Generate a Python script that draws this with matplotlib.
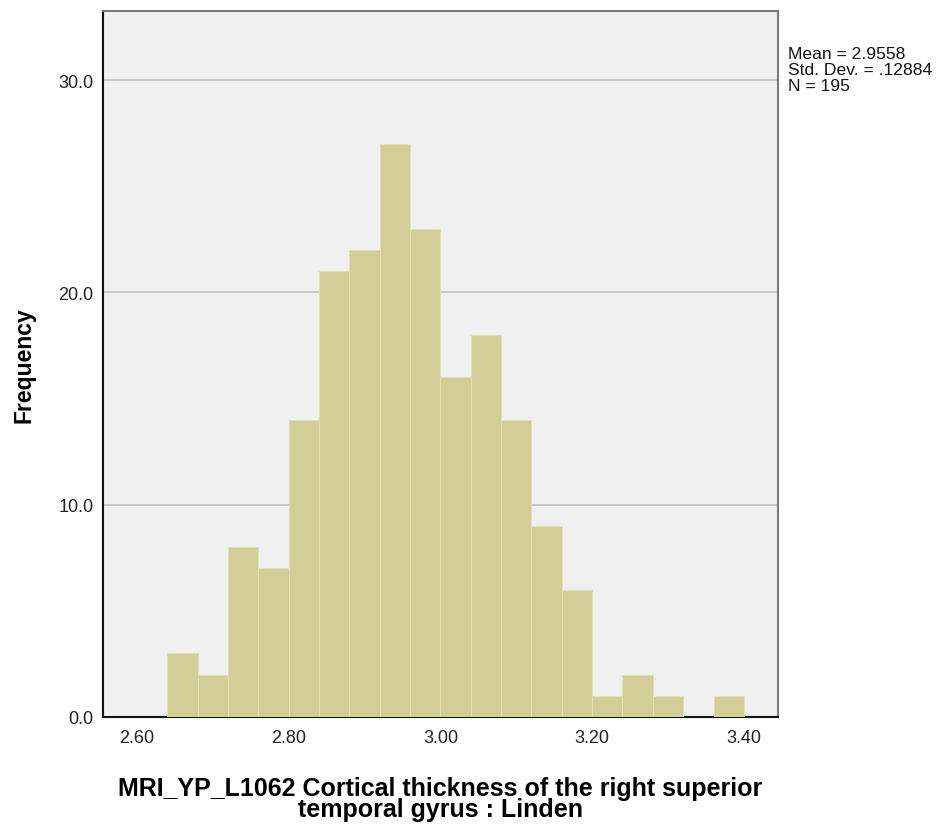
import numpy as np
import matplotlib
matplotlib.use('Agg')
import matplotlib.pyplot as plt

plt.rcParams['font.family'] = ['Liberation Sans', 'DejaVu Sans']

# histogram data
bin_edges = [2.64, 2.68, 2.72, 2.76, 2.80, 2.84, 2.88, 2.92, 2.96, 3.00,
             3.04, 3.08, 3.12, 3.16, 3.20, 3.24, 3.28, 3.32, 3.36, 3.40]
counts = [3, 2, 8, 7, 14, 21, 22, 27, 23, 16, 18, 14, 9, 6, 1, 2, 1, 0, 1]
x_ticks = [2.60, 2.80, 3.00, 3.20, 3.40]
y_ticks = [0, 10, 20, 30]
stats_text = "Mean = 2.9558\nStd. Dev. = .12884\nN = 195"
x_label = "MRI_YP_L1062 Cortical thickness of the right superior\ntemporal gyrus : Linden"

BAR = '#d2ce98'
EDGE = '#e2dfb4'

fig = plt.figure(figsize=(9.43, 8.29), dpi=100)
ax = fig.add_axes([0.1092, 0.1339, 0.7158, 0.8516])
ax.set_facecolor('#f0f0f0')

lefts = np.array(bin_edges[:-1])
widths = np.diff(bin_edges)
ax.bar(lefts, counts, width=widths, align='edge', color=BAR,
       edgecolor=EDGE, linewidth=0.8, zorder=3)

ax.set_xlim(2.555, 3.445)
ax.set_ylim(0, 33.25)
ax.set_xticks(x_ticks)
ax.set_xticklabels(["%.2f" % v for v in x_ticks])
ax.set_yticks(y_ticks)
ax.set_yticklabels(["%.1f" % v for v in y_ticks])
ax.tick_params(length=0, labelsize=13, colors='#222222')
ax.tick_params(axis='x', pad=9)
ax.tick_params(axis='y', pad=7)

ax.yaxis.grid(True, color='#c4c4c4', linewidth=1.3, zorder=1)
ax.set_axisbelow(True)

for s in ['left', 'bottom']:
    ax.spines[s].set_color('#111111')
    ax.spines[s].set_linewidth(1.5)
for s in ['top', 'right']:
    ax.spines[s].set_color('#7a7a7a')
    ax.spines[s].set_linewidth(1.5)

ax.set_ylabel("Frequency", fontsize=16.5, fontweight='bold', labelpad=16)
ax.set_xlabel(x_label, fontsize=18, fontweight='bold', labelpad=21,
              linespacing=0.85)

fig.text(0.8356, 0.943, stats_text, fontsize=12.6, va='top', ha='left',
         linespacing=1.06, color='#111111')

fig.savefig('out.png', dpi=100)
